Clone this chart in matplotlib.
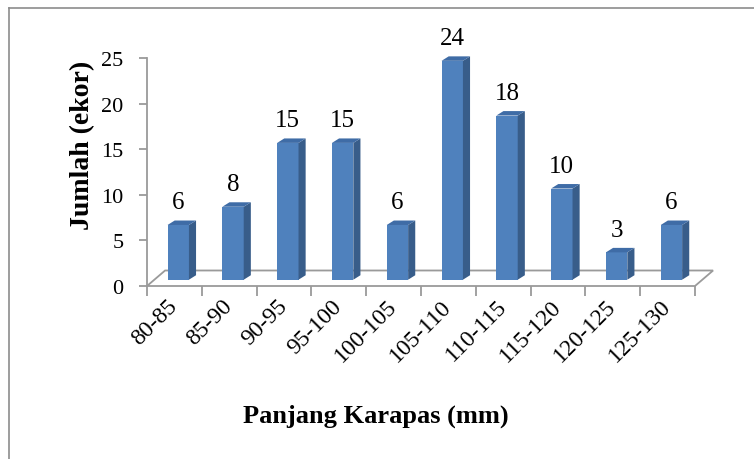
import numpy as np
import matplotlib.pyplot as plt
from matplotlib.patches import Polygon
from matplotlib.lines import Line2D

# class intervals of carapace length and the number of individuals in each
kelas = ['80-85', '85-90', '90-95', '95-100', '100-105',
         '105-110', '110-115', '115-120', '120-125', '125-130']
jumlah = [6, 8, 15, 15, 6, 24, 18, 10, 3, 6]

plt.rcParams['font.family'] = ['Liberation Serif', 'DejaVu Serif']

W, H = 754, 460
fig = plt.figure(figsize=(W / 100, H / 100), dpi=100)

# chart-area frame (only top and left edges show)
fig.add_artist(Line2D([8.5 / W, 8.5 / W], [0, 1 - 8.5 / H], color='#8c8c8c', lw=1.2))
fig.add_artist(Line2D([8.5 / W, 1], [1 - 8.5 / H, 1 - 8.5 / H], color='#8c8c8c', lw=1.2))

ax = fig.add_axes([147 / W, (H - 287) / H, 548 / W, 228 / H])
ax.set_xlim(-0.5, 9.5)
ax.set_ylim(0, 25)

x = np.arange(len(kelas))
gray = '#9a9a9a'

# pseudo-3D geometry, in data units
floor_dx, floor_dy = 0.33, 1.7     # depth of the floor
off_x, base = 0.07, 0.69           # bar front face position inside the floor
bw = 0.39                          # bar width
side_dx, side_dy = 0.13, 0.49      # bar depth

# floor
ax.add_patch(Polygon([(-0.5, 0), (9.5, 0), (9.5 + floor_dx, floor_dy),
                      (-0.5 + floor_dx, floor_dy)], closed=True,
                     facecolor='none', edgecolor=gray, lw=1.3, clip_on=False))

# bars: front faces, then sides and tops
xf = x + off_x
ax.bar(xf, jumlah, width=bw, bottom=base, color='#4f81bd', zorder=3)
for xc, v in zip(xf, jumlah):
    r = xc + bw / 2
    l = xc - bw / 2
    top = base + v
    ax.add_patch(Polygon([(r, base), (r + side_dx, base + side_dy),
                          (r + side_dx, top + side_dy), (r, top)],
                         closed=True, facecolor='#385d8a', edgecolor='none',
                         zorder=3, clip_on=False))
    ax.add_patch(Polygon([(l, top), (r, top), (r + side_dx, top + side_dy),
                          (l + side_dx, top + side_dy)],
                         closed=True, facecolor='#3f6ca6', edgecolor='none',
                         zorder=3, clip_on=False))
    ax.annotate(str(v), (xc, top), xytext=(0, 12), textcoords='offset points',
                ha='center', va='baseline', fontsize=18)

# axes styling
for s in ['top', 'right', 'bottom']:
    ax.spines[s].set_visible(False)
ax.spines['left'].set_color(gray)
ax.spines['left'].set_linewidth(1.3)
ax.set_yticks(range(0, 26, 5))
ax.tick_params(axis='y', length=6, color=gray, width=1.3, labelsize=16, pad=11)

ax.set_xticks(x)
ax.set_xticklabels(kelas, rotation=45, ha='right', va='center',
                   rotation_mode='anchor', fontsize=17)
ax.set_xticks(np.arange(-0.5, 10, 1), minor=True)
ax.tick_params(axis='x', which='major', length=0, pad=12)
ax.tick_params(axis='x', which='minor', length=7, color=gray, width=1.3)

ax.set_ylabel('Jumlah (ekor)', fontsize=20, fontweight='bold')
ax.yaxis.set_label_coords(-0.095, 0.62)
ax.set_xlabel('Panjang Karapas (mm)', fontsize=19, fontweight='bold')
ax.xaxis.set_label_coords(0.417, -0.515)

fig.savefig('out.png', dpi=100)
